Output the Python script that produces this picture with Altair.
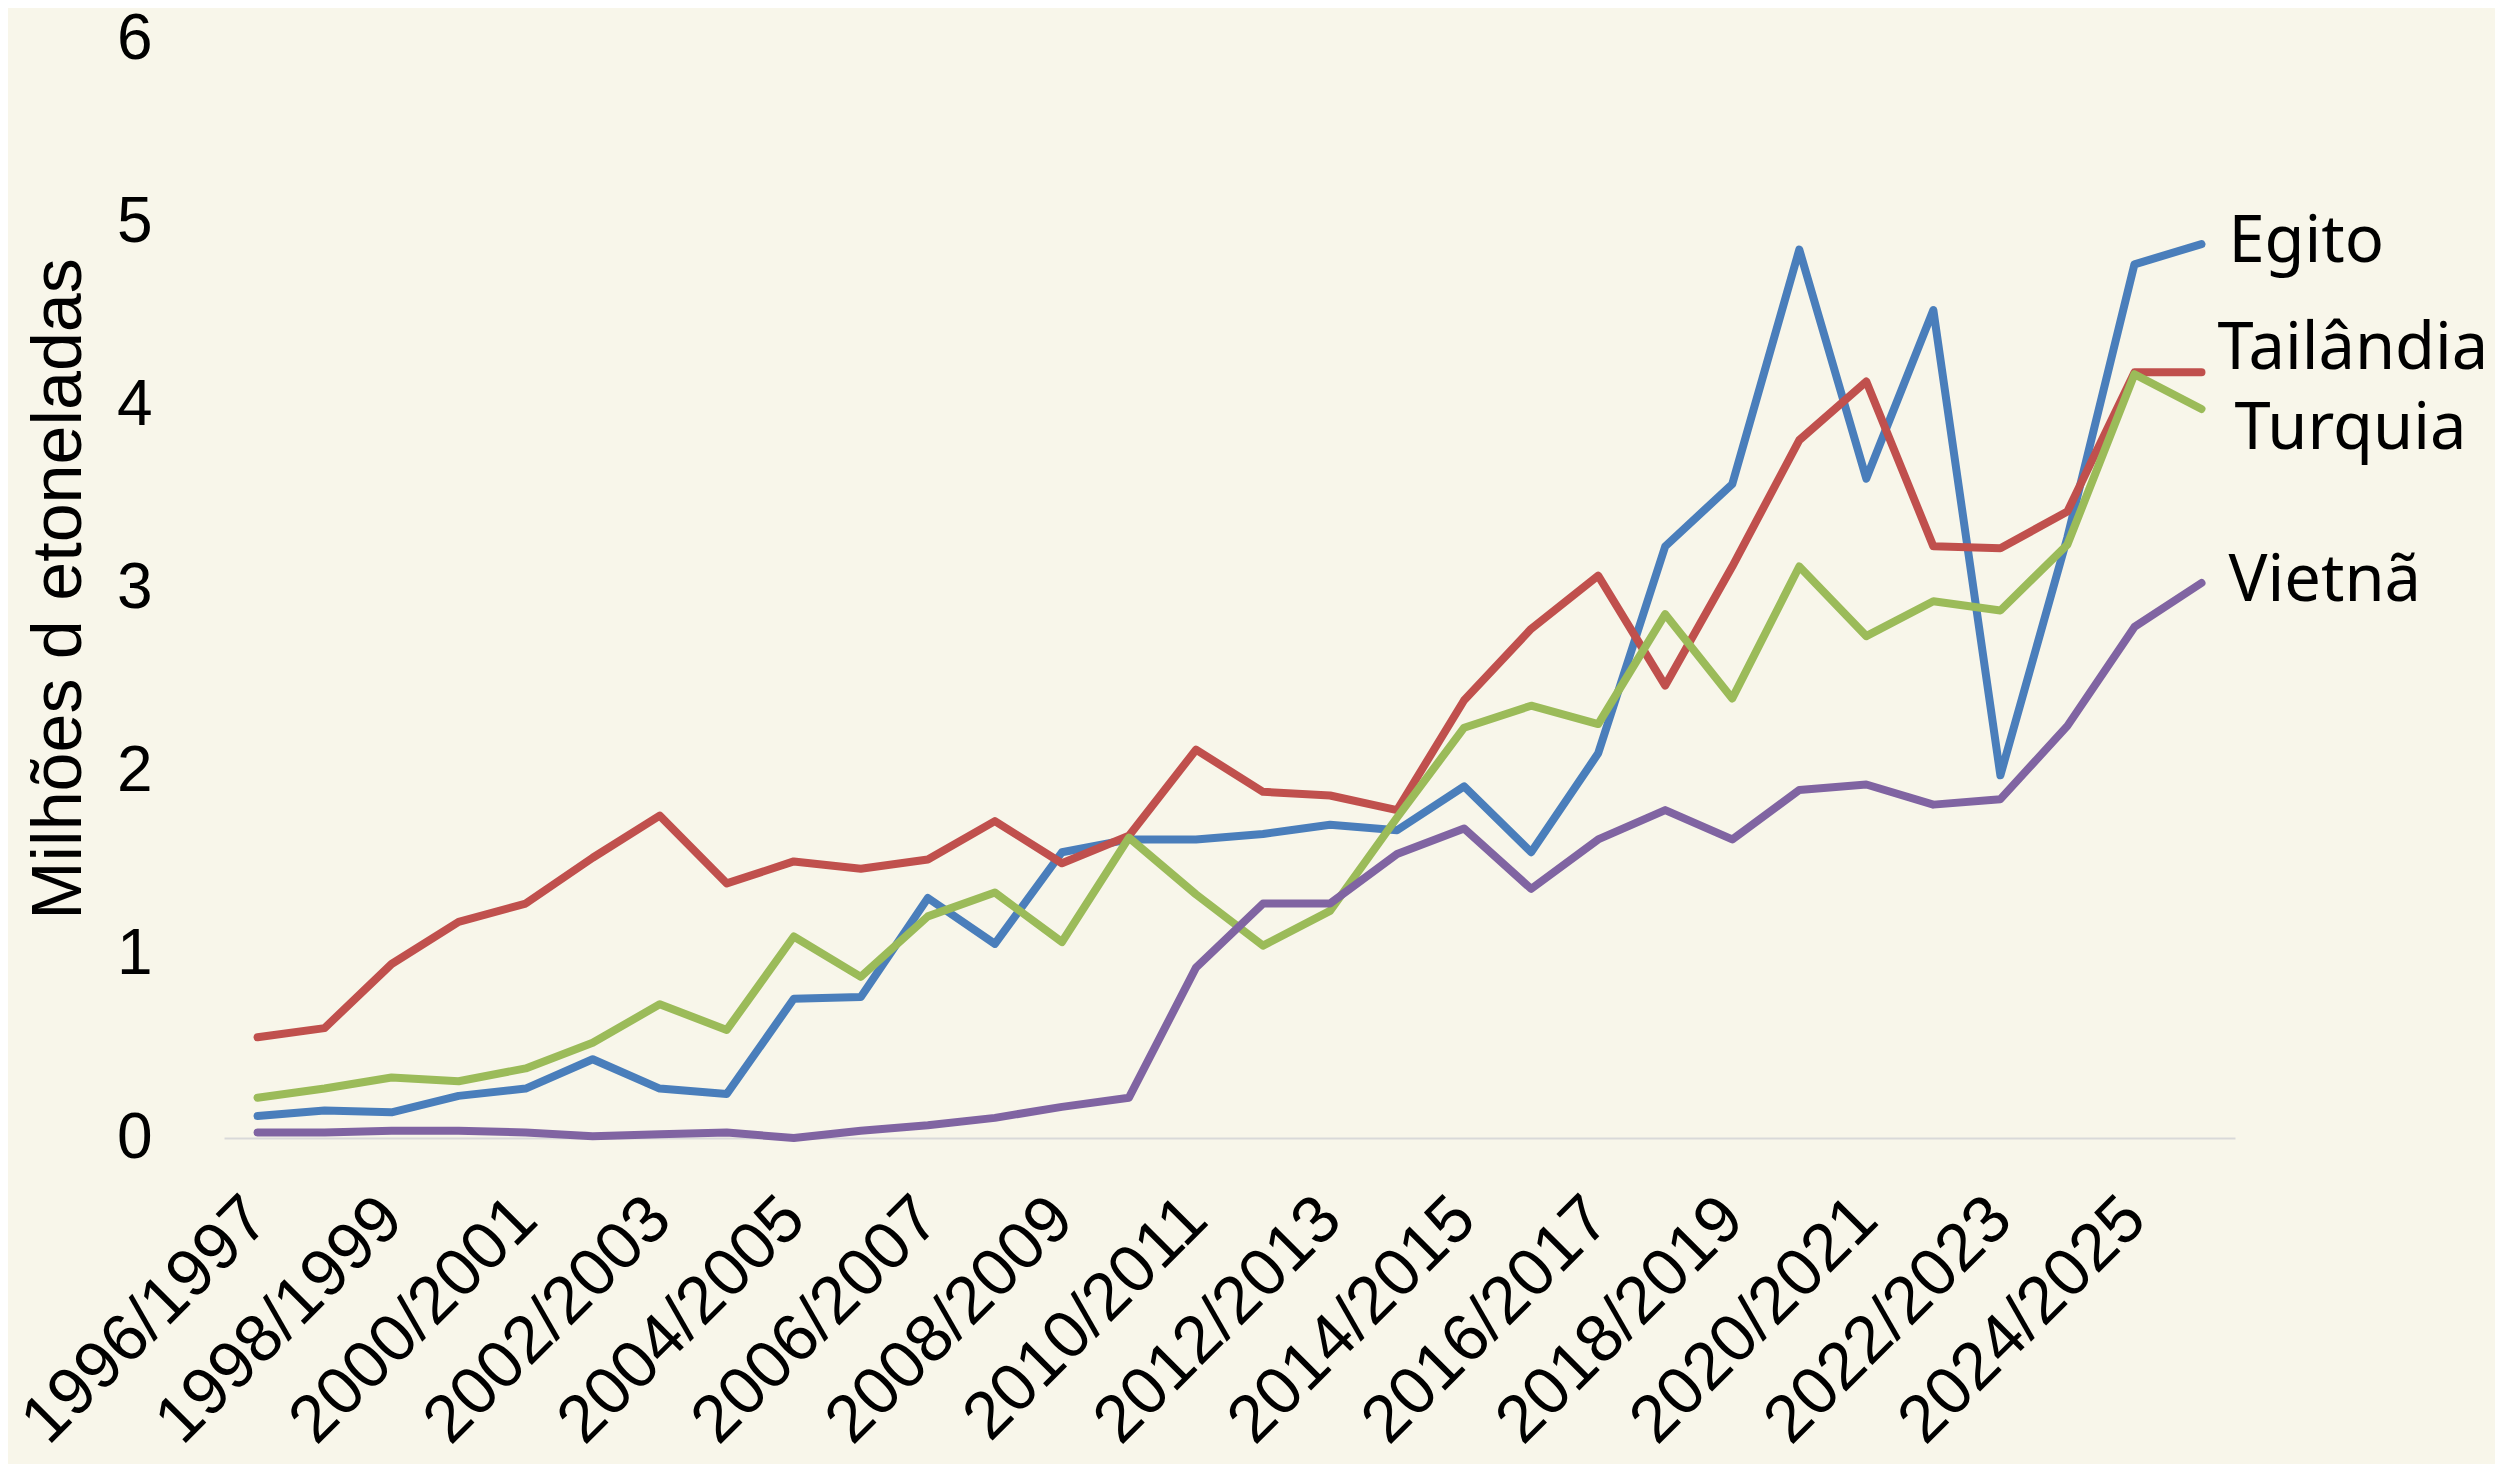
import altair as alt
import pandas as pd

seasons = ["1996/1997", "1997/1998", "1998/1999", "1999/2000", "2000/2001", "2001/2002",
           "2002/2003", "2003/2004", "2004/2005", "2005/2006", "2006/2007", "2007/2008",
           "2008/2009", "2009/2010", "2010/2011", "2011/2012", "2012/2013", "2013/2014",
           "2014/2015", "2015/2016", "2016/2017", "2017/2018", "2018/2019", "2019/2020",
           "2020/2021", "2021/2022", "2022/2023", "2023/2024", "2024/2025", "2025/2026"]

egito = [0.12, 0.15, 0.14, 0.23, 0.27, 0.43, 0.27, 0.24, 0.76, 0.77, 1.31, 1.06, 1.56, 1.63, 1.63,
         1.66, 1.71, 1.68, 1.92, 1.56, 2.10, 3.23, 3.57, 4.85, 3.60, 4.52, 1.98, 3.28, 4.77, 4.88]
tailandia = [0.55, 0.60, 0.95, 1.18, 1.28, 1.53, 1.76, 1.39, 1.51, 1.47, 1.52, 1.73, 1.50, 1.65, 2.12,
             1.89, 1.87, 1.79, 2.39, 2.78, 3.07, 2.47, 3.12, 3.81, 4.13, 3.23, 3.22, 3.42, 4.18, 4.18]
turquia = [0.22, 0.27, 0.33, 0.31, 0.38, 0.52, 0.73, 0.59, 1.10, 0.88, 1.21, 1.34, 1.07, 1.64, 1.33,
           1.05, 1.24, 1.75, 2.24, 2.36, 2.26, 2.86, 2.40, 3.12, 2.74, 2.93, 2.88, 3.24, 4.17, 3.98]
vietna = [0.03, 0.03, 0.04, 0.04, 0.03, 0.01, 0.02, 0.03, 0.00, 0.04, 0.07, 0.11, 0.17, 0.22, 0.93,
          1.28, 1.28, 1.55, 1.69, 1.36, 1.63, 1.79, 1.63, 1.90, 1.93, 1.82, 1.85, 2.25, 2.79, 3.03]

countries = ["Egito", "Tailândia", "Turquia", "Vietnã"]
series = [egito, tailandia, turquia, vietna]
colors = ["#4A7EBB", "#C0504D", "#9BBB59", "#8064A2"]
y_ticks = [0, 1, 2, 3, 4, 5, 6]
x_ticks = seasons[::2]

rows = []
for c, vals in zip(countries, series):
    for s, v in zip(seasons, vals):
        rows.append({"season": s, "country": c, "value": v})
df = pd.DataFrame(rows)

x_enc = alt.X("season:O", sort=seasons,
              scale=alt.Scale(type="point", padding=0.5),
              axis=alt.Axis(values=x_ticks, labelAngle=-45, labelAlign="right",
                            labelBaseline="middle", labelFont="Liberation Sans",
                            labelFontSize=67, labelColor="#000000", labelPadding=70,
                            labelLimit=0, ticks=False, tickSize=0, grid=False, domain=True,
                            domainColor="#D9D9D9", domainWidth=2, title=None,
                            labelOverlap=False))
y_enc = alt.Y("value:Q", scale=alt.Scale(domain=[0, 6], nice=False, zero=True),
              axis=alt.Axis(values=y_ticks, format="d", labelFont="Liberation Sans",
                            labelFontSize=64, labelColor="#000000", labelPadding=72,
                            ticks=False, tickSize=0, grid=False, domain=False,
                            title="Milhões d etoneladas", titleFont="Liberation Sans",
                            titleFontSize=70, titleFontWeight="normal", titleColor="#000000",
                            titleX=-165, titleBaseline="middle"))
color_enc = alt.Color("country:N", scale=alt.Scale(domain=countries, range=colors), legend=None)

lines = alt.Chart(df).mark_line(strokeWidth=8, strokeJoin="round", strokeCap="round").encode(
    x=x_enc, y=y_enc, color=color_enc, order=alt.Order("season:O"))

last = seasons[-1]

def label_layer(names, dx, dy):
    cond = " || ".join(f"datum.country == '{n}'" for n in names)
    expr = f"datum.season == '{last}' && ({cond})"
    return alt.Chart(df).transform_filter(expr).mark_text(
        align="left", baseline="middle", dx=dx, dy=dy, font="Noto Sans",
        fontSize=65, color="#000000").encode(
        x=alt.X("season:O", sort=seasons), y="value:Q", text="country:N")

labels = (label_layer(["Egito", "Vietnã"], 27, -2)
          + label_layer(["Tailândia"], 16, -23)
          + label_layer(["Turquia"], 33, 20))

chart = alt.layer(lines, labels).properties(
    width=2011, height=1099,
    autosize=alt.AutoSizeParams(type="none"),
    padding={"left": 216, "top": 31, "right": 260, "bottom": 326},
    background="#F8F6EA",
).configure_view(stroke=None)

chart.save("out.html", embed_options={"renderer": "svg", "actions": False})
